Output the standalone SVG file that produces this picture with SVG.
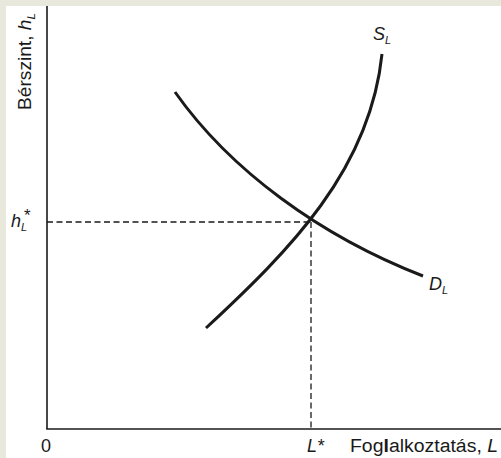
<svg xmlns="http://www.w3.org/2000/svg" width="501" height="458" viewBox="0 0 501 458">
<style>
.axis{stroke:#1a1a1a;stroke-width:1.6;fill:none}
.curve{stroke:#1a1a1a;stroke-width:3;fill:none;stroke-linecap:butt}
.dash{stroke:#1a1a1a;stroke-width:1.3;fill:none;stroke-dasharray:6 3.5}
text{font-family:"Liberation Sans",Arial,sans-serif;fill:#1a1a1a}
.lbl{font-size:18px}
.it{font-style:italic}
.sub{font-size:11px;font-style:italic}
</style>
<rect x="0" y="0" width="501" height="458" fill="#ffffff"/>
<rect x="0" y="0" width="501" height="6" fill="#e8e8dc"/>
<rect x="0" y="0" width="6" height="458" fill="#e8e8dc"/>
<g id="connectors">
<line class="dash" x1="47" y1="222" x2="311" y2="222"/>
<line class="dash" x1="311" y1="222" x2="311" y2="429"/>
</g>
<g id="axes">
<line class="axis" x1="47" y1="6" x2="47" y2="429"/>
<line class="axis" x1="46.2" y1="429" x2="501" y2="429"/>
</g>
<g id="supply">
<path class="curve" d="M206,328 C290,250 370,170 382,54"/>
<text class="lbl it" x="373" y="40">S<tspan class="sub" dy="4">L</tspan></text>
</g>
<g id="demand">
<path class="curve" d="M175,92 C230,170 320,236 423,276"/>
<text class="lbl it" x="429" y="290">D<tspan class="sub" dy="4">L</tspan></text>
</g>
<g id="y-label">
<text class="lbl" transform="translate(31,110) rotate(-90)" textLength="97" lengthAdjust="spacingAndGlyphs">Bérszint,  <tspan class="it">h</tspan><tspan class="sub" dy="4">L</tspan></text>
</g>
<g id="h-star">
<text class="lbl it" x="11" y="227">h<tspan class="sub" dy="4">L</tspan><tspan font-size="17" dx="-4" dy="-10">*</tspan></text>
</g>
<g id="origin">
<text class="lbl" x="41" y="452">0</text>
</g>
<g id="l-star">
<text class="lbl it" x="307" y="452">L*</text>
</g>
<g id="x-label">
<text class="lbl" x="350" y="452" textLength="148" lengthAdjust="spacingAndGlyphs">Fog<tspan font-weight="bold">l</tspan>alkoztatás,  <tspan class="it">L</tspan></text>
</g>
</svg>
